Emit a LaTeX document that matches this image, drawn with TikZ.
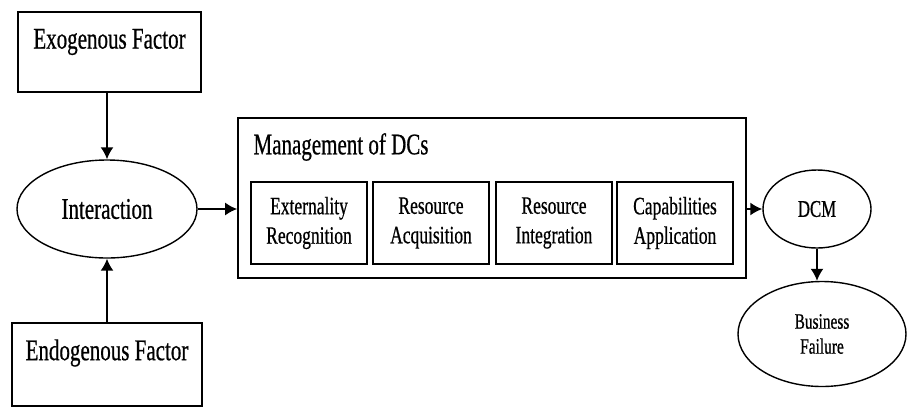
\documentclass[tikz,border=0pt]{standalone}
\usepackage{fontspec}
\setmainfont[FakeStretch=0.7,FakeBold=0.6]{Liberation Serif}
\usetikzlibrary{shapes.geometric,arrows.meta}
\begin{document}
\begin{tikzpicture}[x=1pt,y=-1pt,
  frame/.style={draw,line width=1.7pt,rectangle,inner sep=0pt},
  oval/.style={draw,line width=1.4pt,ellipse,inner sep=0pt},
  big/.style={font=\fontsize{30}{34}\selectfont},
  mid/.style={font=\fontsize{25}{29.5}\selectfont,align=center},
  arr/.style={line width=1.7pt,-{Latex[length=12pt,width=13pt]}}]
\useasboundingbox (0,0) rectangle (908,408);
% left column
\node[frame,minimum width=183pt,minimum height=80pt] (exo) at (109.5,52) {};
\node[big] (exot) at (109.5,42) {Exogenous Factor};
\node[oval,minimum width=180pt,minimum height=98pt,big] (inter) at (107,209) {Interaction};
\node[frame,minimum width=190pt,minimum height=83pt] (endo) at (107,364.5) {};
\node[big] (endot) at (107,353) {Endogenous Factor};
% management box
\node[frame,minimum width=508pt,minimum height=160pt] (mgmt) at (492,198) {};
\node[big,anchor=west] (mgmtt) at (250,147) {Management of DCs};
\node[frame,minimum width=116pt,minimum height=82pt,mid] (b1) at (309,223) {Externality\\Recognition};
\node[frame,minimum width=116pt,minimum height=82pt,mid] (b2) at (431,223) {Resource\\Acquisition};
\node[frame,minimum width=116pt,minimum height=82pt,mid] (b3) at (554,223) {Resource\\Integration};
\node[frame,minimum width=116pt,minimum height=82pt,mid] (b4) at (675,223) {Capabilities\\Application};
% right side
\node[oval,minimum width=108pt,minimum height=78pt,font=\fontsize{24}{28}\selectfont] (dcm) at (817,209) {DCM};
\node[oval,minimum width=168pt,minimum height=105pt,font=\fontsize{22}{25}\selectfont,align=center] (bus) at (822,334) {Business\\Failure};
% connectors
\draw[arr] (inter.north |- exo.south) -- (inter.north);
\draw[arr] (inter.south |- endo.north) -- (inter.south);
\draw[arr] (inter.east) -- (inter.east -| mgmt.west);
\draw[arr] (dcm.west -| mgmt.east) -- (dcm.west);
\draw[arr] (dcm.south) -- (dcm.south |- bus.north);
\end{tikzpicture}
\end{document}
